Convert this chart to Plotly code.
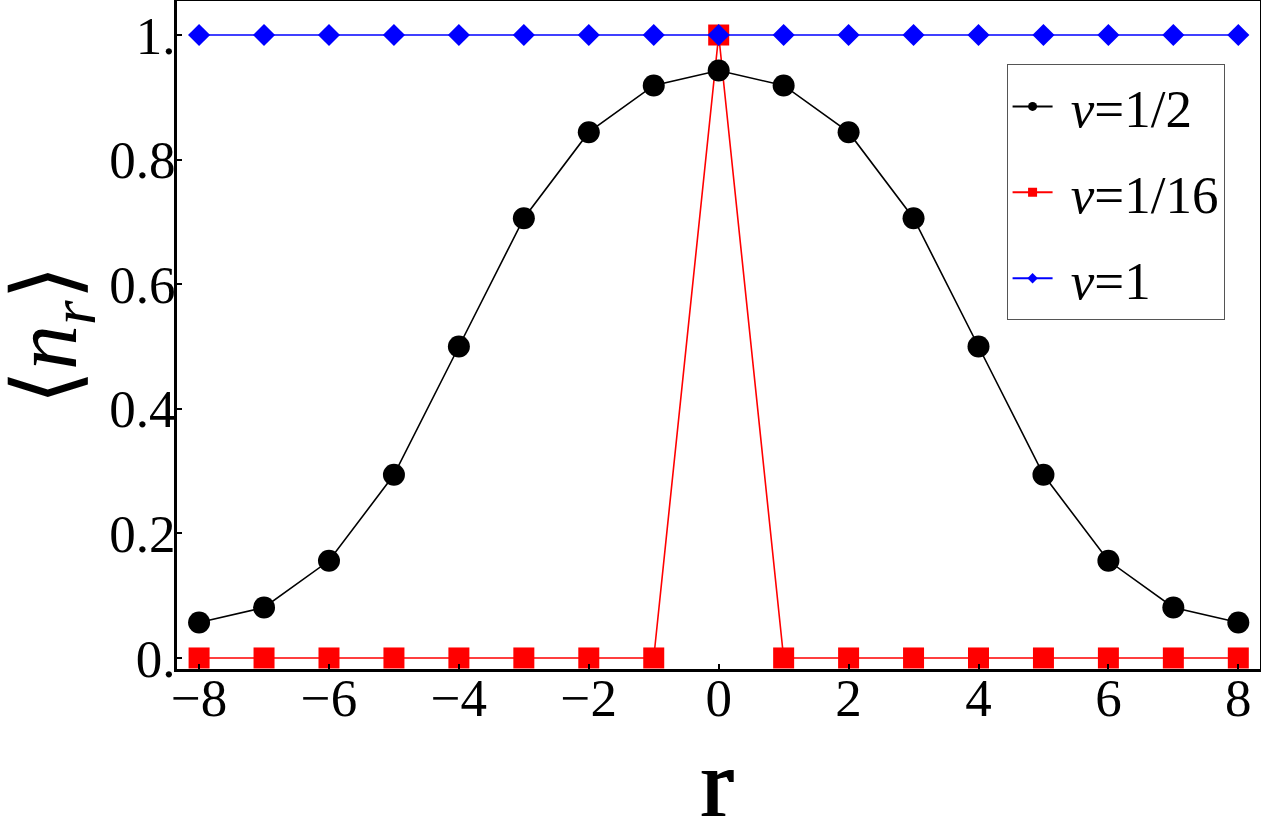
import plotly.graph_objects as go

r_vals = list(range(-8, 9))
n_half = [0.057, 0.081, 0.156, 0.294, 0.500, 0.706, 0.844, 0.919, 0.943,
          0.919, 0.844, 0.706, 0.500, 0.294, 0.156, 0.081, 0.057]
n_sixteenth = [0, 0, 0, 0, 0, 0, 0, 0, 1, 0, 0, 0, 0, 0, 0, 0, 0]
n_one = [1] * 17

x_ticks = [-8, -6, -4, -2, 0, 2, 4, 6, 8]
y_ticks = [0, 0.2, 0.4, 0.6, 0.8, 1.0]
y_ticktext = ["0.", "0.2", "0.4", "0.6", "0.8", "1."]

labels = ["&nbsp;<i>ν</i>=1/2", "&nbsp;<i>ν</i>=1/16", "&nbsp;<i>ν</i>=1"]
x_title = "r"
y_title = "⟨<i>n</i><sub><i>r</i></sub>⟩"

FONT = "Liberation Serif, Times New Roman, serif"

fig = go.Figure()

# plotted traces (red below black, blue on top)
fig.add_trace(go.Scatter(x=r_vals, y=n_sixteenth, mode="lines+markers",
                         line=dict(color="#ff0000", width=1.6),
                         marker=dict(symbol="square", size=21, color="#ff0000"),
                         showlegend=False))
fig.add_trace(go.Scatter(x=r_vals, y=n_half, mode="lines+markers",
                         line=dict(color="black", width=1.6),
                         marker=dict(symbol="circle", size=22, color="black"),
                         showlegend=False))
fig.add_trace(go.Scatter(x=r_vals, y=n_one, mode="lines+markers",
                         line=dict(color="#0000ff", width=1.6),
                         marker=dict(symbol="diamond", size=17, color="#0000ff"),
                         showlegend=False))

# legend entries
leg_styles = [("black", "circle", 9), ("#ff0000", "square", 9), ("#0000ff", "diamond", 8)]
for i, (lab, (col, sym, sz)) in enumerate(zip(labels, leg_styles)):
    fig.add_trace(go.Scatter(x=[None], y=[None], mode="lines+markers", name=lab,
                             line=dict(color=col, width=2),
                             marker=dict(symbol=sym, size=sz, color=col),
                             legendgroup=f"g{i}", showlegend=True))

fig.update_layout(
    width=1261, height=840,
    margin=dict(l=177, r=1, t=1, b=171, autoexpand=False),
    paper_bgcolor="white", plot_bgcolor="white",
    font=dict(family=FONT, color="black", size=53),
    showlegend=True,
    legend=dict(x=0.766, y=0.905, xanchor="left", yanchor="top",
                bgcolor="white", bordercolor="#555555", borderwidth=1,
                font=dict(family=FONT, size=53, color="black"),
                traceorder="grouped", tracegroupgap=14,
                itemwidth=40),
    xaxis=dict(range=[-8.34, 8.334], tickvals=x_ticks,
               showgrid=False, zeroline=False, automargin=False,
               showline=True, linecolor="black", linewidth=3, mirror=True,
               ticks="inside", ticklen=5, tickwidth=2, tickcolor="black",
               ticklabelstandoff=-20,
               tickfont=dict(family=FONT, size=53)),
    yaxis=dict(range=[-0.0177, 1.0546], tickvals=y_ticks, ticktext=y_ticktext,
               showgrid=False, zeroline=False, automargin=False,
               showline=True, linecolor="black", linewidth=3, mirror=True,
               ticks="inside", ticklen=5, tickwidth=2, tickcolor="black",
               ticklabelstandoff=-12,
               tickfont=dict(family=FONT, size=53)),
    annotations=[
        dict(text=x_title, xref="paper", yref="paper", x=0.499, y=-0.171,
             xanchor="center", yanchor="middle", showarrow=False,
             font=dict(family=FONT, size=97, color="black",
                       shadow="1.2px 0px 0px black, -1.2px 0px 0px black")),
        dict(text=y_title, xref="paper", yref="paper", x=-0.1154, y=0.5,
             xanchor="center", yanchor="middle", showarrow=False, textangle=-90,
             font=dict(family=FONT, size=90, color="black")),
    ],
)

fig.write_html("out.html", config={"displayModeBar": False},
               post_script="document.body.style.margin='0';document.body.style.overflow='hidden';")
